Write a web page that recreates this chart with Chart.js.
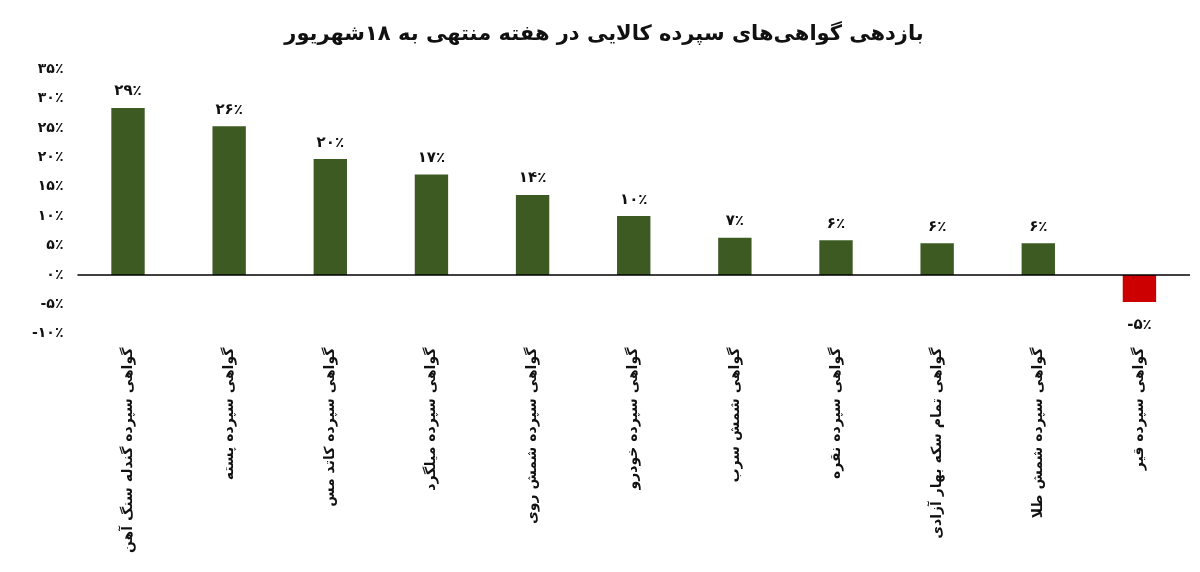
<!DOCTYPE html>
<html><head><meta charset="utf-8">
<script src="https://cdn.jsdelivr.net/npm/chart.js@4"></script>
<style>html,body{margin:0;background:#fff}#w{width:1200px;height:572px;position:relative}</style>
</head><body><div id="w"><canvas id="c"></canvas></div>
<script>
const categories = ["گواهی سپرده گندله سنگ آهن","گواهی سپرده پسته","گواهی سپرده کاتد مس","گواهی سپرده میلگرد","گواهی سپرده شمش روی","گواهی سپرده خودرو","گواهی شمش سرب","گواهی سپرده نقره","گواهی تمام سکه بهار آزادی","گواهی سپرده شمش طلا","گواهی سپرده قیر"];
const values = [28.4, 25.3, 19.7, 17.1, 13.6, 10, 6.3, 5.9, 5.4, 5.4, -4.6];
const valueLabels = ["۲۹٪","۲۶٪","۲۰٪","۱۷٪","۱۴٪","۱۰٪","۷٪","۶٪","۶٪","۶٪","-۵٪"];
const titleText = "بازدهی گواهی‌های سپرده کالایی در هفته منتهی به ۱۸شهریور";
const fa = n => String(n).replace(/\d/g, d => "۰۱۲۳۴۵۶۷۸۹"[d]);
const F = "'DejaVu Sans', sans-serif";
const labelPlugin = {id:'vl', afterDatasetsDraw(chart){
  const ctx = chart.ctx; const meta = chart.getDatasetMeta(0);
  ctx.save(); ctx.font = "bold 15px " + F; ctx.fillStyle = "#111"; ctx.textAlign = "center";
  meta.data.forEach((b,i)=>{
    if (values[i] >= 0){ ctx.textBaseline="bottom"; ctx.fillText(valueLabels[i], b.x, b.y-9); }
    else { ctx.textBaseline="top"; ctx.fillText(valueLabels[i], b.x, b.y+16); }
  });
  ctx.restore();
}};
new Chart(document.getElementById('c'), {
  type:'bar',
  data:{labels:categories, datasets:[{data:values,
    backgroundColor: values.map(v=>v<0?'#cc0000':'#3d5a23'),
    barPercentage:0.33, categoryPercentage:1}]},
  options:{responsive:true, maintainAspectRatio:false, animation:false,
    layout:{padding:{left:18,right:10,top:0,bottom:5}},
    plugins:{legend:{display:false}, tooltip:{enabled:false},
      title:{display:true, text:titleText, color:'#111', font:{family:F, size:21, weight:'bold'}, padding:{top:22,bottom:22}}},
    scales:{
      x:{grid:{display:false, drawTicks:false}, border:{display:false},
        ticks:{minRotation:90, maxRotation:90, autoSkip:false, color:'#111', font:{family:F, size:14, weight:'bold'}, padding:14}},
      y:{min:-10, max:35, grid:{display:false, drawTicks:false}, border:{display:false},
        ticks:{stepSize:5, color:'#111', padding:14, font:{family:F, size:14, weight:'bold'}, callback:v=> (v<0?'-':'') + fa(Math.abs(v)) + '٪'}}
    }},
  plugins:[labelPlugin, {id:'zero', afterDatasetsDraw(chart){
    const y = chart.scales.y.getPixelForValue(0), a = chart.chartArea, ctx = chart.ctx;
    ctx.save(); ctx.strokeStyle='#000'; ctx.lineWidth=1.5; ctx.beginPath(); ctx.moveTo(a.left,y); ctx.lineTo(a.right,y); ctx.stroke(); ctx.restore();
  }}]
});
</script></body></html>
